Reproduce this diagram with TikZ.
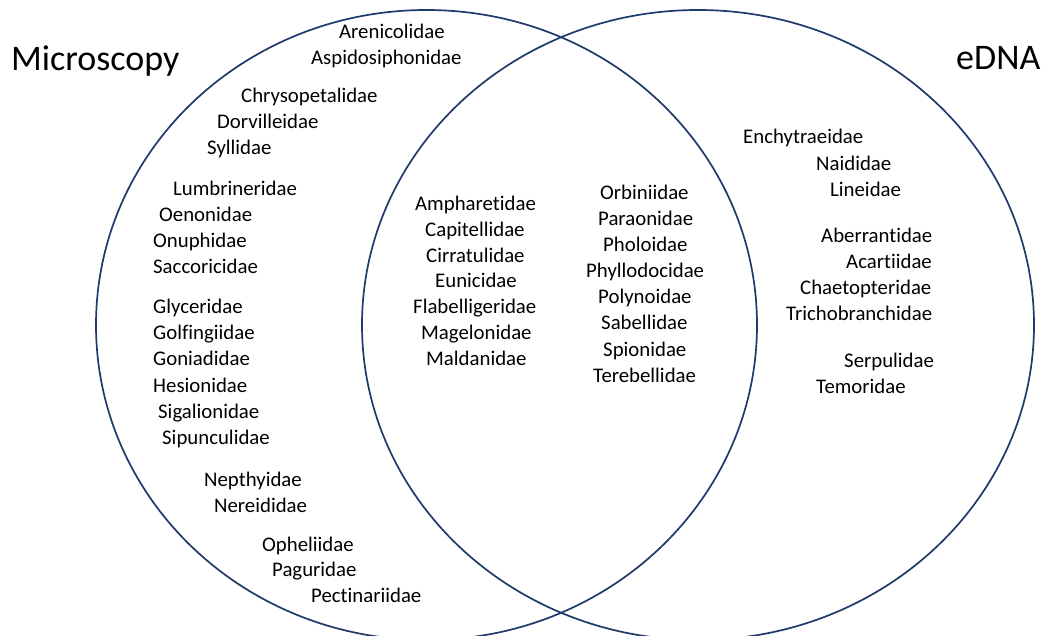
\documentclass[tikz,border=0pt]{standalone}
\usepackage{fontspec}
\setmainfont{Carlito}[Ligatures=NoCommon]
\definecolor{vennline}{HTML}{1F3A6B}
\tikzset{
  fam/.style={anchor=base west, inner sep=0pt, font=\fontsize{20.8}{24}\selectfont},
  ttl/.style={anchor=base west, inner sep=0pt, font=\fontsize{36}{40}\selectfont},
  setline/.style={draw=vennline, line width=1.7pt}
}
\begin{document}
\begin{tikzpicture}[x=1pt,y=-1pt]
\useasboundingbox (0,0) rectangle (1055,636);
\clip (0,0) rectangle (1055,636);
\fill[white] (0,0) rectangle (1055,636);
% sets
\draw[setline] (426.5,325) ellipse [x radius=330.5pt, y radius=315pt];
\draw[setline] (698,325) ellipse [x radius=336pt, y radius=315pt];
% titles
\node[ttl] (tmic) at (11,70.5) {Microscopy};
\node[ttl] (tedna) at (956,70) {eDNA};
% microscopy only
\node[fam] (n1) at (339,39) {Arenicolidae};
\node[fam] (n2) at (311,65) {Aspidosiphonidae};
\node[fam] (n3) at (241,103) {Chrysopetalidae};
\node[fam] (n4) at (217,129) {Dorvilleidae};
\node[fam] (n5) at (207,155) {Syllidae};
\node[fam] (n6) at (173,196) {Lumbrineridae};
\node[fam] (n7) at (159,222) {Oenonidae};
\node[fam] (n8) at (153,248) {Onuphidae};
\node[fam] (n9) at (153,274) {Saccoricidae};
\node[fam] (n10) at (153,314) {Glyceridae};
\node[fam] (n11) at (153,340) {Golfingiidae};
\node[fam] (n12) at (153,366) {Goniadidae};
\node[fam] (n13) at (153,392) {Hesionidae};
\node[fam] (n14) at (158,418) {Sigalionidae};
\node[fam] (n15) at (162,444) {Sipunculidae};
\node[fam] (n16) at (204,486) {Nepthyidae};
\node[fam] (n17) at (214,512) {Nereididae};
\node[fam] (n18) at (262,551) {Opheliidae};
\node[fam] (n19) at (272,576) {Paguridae};
\node[fam] (n20) at (311,602) {Pectinariidae};
% both
\node[fam] (b1) at (415,211) {Ampharetidae};
\node[fam] (b2) at (425,237) {Capitellidae};
\node[fam] (b3) at (426,263) {Cirratulidae};
\node[fam] (b4) at (435,288) {Eunicidae};
\node[fam] (b5) at (413,314) {Flabelligeridae};
\node[fam] (b6) at (421,340) {Magelonidae};
\node[fam] (b7) at (426,366) {Maldanidae};
\node[fam] (b8) at (600,200) {Orbiniidae};
\node[fam] (b9) at (598,226) {Paraonidae};
\node[fam] (b10) at (603,252) {Pholoidae};
\node[fam] (b11) at (586,278) {Phyllodocidae};
\node[fam] (b12) at (598,304) {Polynoidae};
\node[fam] (b13) at (601,330) {Sabellidae};
\node[fam] (b14) at (603,356) {Spionidae};
\node[fam] (b15) at (593,382) {Terebellidae};
% eDNA only
\node[fam] (e1) at (743,144) {Enchytraeidae};
\node[fam] (e2) at (816,171) {Naididae};
\node[fam] (e3) at (830,197) {Lineidae};
\node[fam] (e4) at (821,243) {Aberrantidae};
\node[fam] (e5) at (846,269) {Acartiidae};
\node[fam] (e6) at (800,295) {Chaetopteridae};
\node[fam] (e7) at (786,321) {Trichobranchidae};
\node[fam] (e8) at (844,367) {Serpulidae};
\node[fam] (e9) at (816,393) {Temoridae};
\end{tikzpicture}
\end{document}
